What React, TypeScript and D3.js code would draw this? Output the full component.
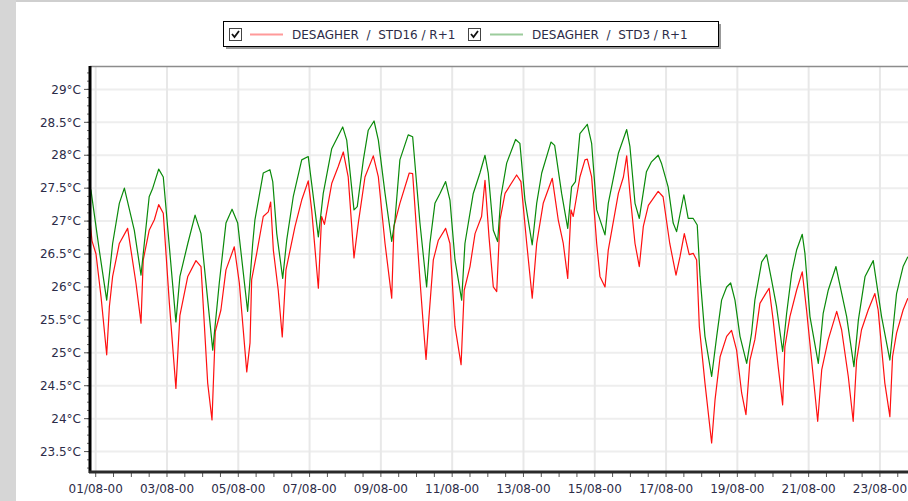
import React, {useRef, useEffect} from 'react';
import * as d3 from 'd3';

// hours counted from 01/08/2000 00:00
const std16Hours = [
  -3.8, -2.5, 0.2, 3.6, 7.4, 9.2, 11.4, 15.9, 21.5, 27.1, 30.5, 32, 36, 39.5, 42.4, 45.5, 49.6, 54, 56.7, 62,
  67.5, 70.9, 75.4, 78.3, 80.5, 84.3, 87.7, 93.3, 96.7, 101.7, 103.9, 105, 108.4, 112.8, 116.2, 117.8, 119.6,
  122.9, 125.6, 128.1, 134.2, 138.7, 143.1, 145.4, 149.9, 152.1, 154, 158.9, 163.3, 166.7, 170, 173.9, 176.8,
  181.3, 186.9, 190.3, 194.8, 199.3, 200.8, 204.8, 211.1, 213.4, 218.3, 220.8, 222.4, 224.4, 227.3, 230.7,
  235.6, 238.5, 241.9, 246, 248.1, 252, 255.4, 259.8, 262.1, 264.8, 267.7, 270, 272.2, 275.6, 283.4, 286.3,
  290.2, 293.9, 296.9, 301.3, 307.4, 311.4, 314.8, 317.8, 320, 321.5, 326, 329.4, 331, 333.9, 337.3, 339.5,
  342.9, 345.1, 351.9, 355.3, 357.5, 359.7, 363.1, 366, 368.7, 372.1, 378.7, 382, 386.5, 390.7, 393.4, 396.3,
  399.6, 402.3, 404.6, 406.4, 410.2, 414.7, 417, 420.4, 424.8, 428.1, 431.5, 434.9, 437.8, 440.5, 443.8,
  447.2, 450.6, 453.4, 456.1, 459.5, 462.5, 464, 467.4, 471.9, 475.7, 478.6, 483.1, 486.1, 488.8, 493.2,
  498.9, 502.2, 506.7, 510, 512.3, 515.6, 520.1, 524.6, 526.8, 531.3, 534.7, 536.5, 539.2, 543.6, 546.8,
];
const std16Temps = [
  27.0, 26.7, 26.5, 25.85, 24.97, 25.7, 26.16, 26.66, 26.89, 26.06, 25.45, 26.41, 26.86, 27.02, 27.25, 27.12,
  25.75, 24.46, 25.57, 26.16, 26.4, 26.31, 24.54, 23.98, 25.32, 25.65, 26.26, 26.61, 26.06, 24.71, 25.15,
  26.11, 26.51, 27.07, 27.14, 27.29, 26.56, 25.95, 25.24, 26.26, 26.92, 27.32, 27.61, 27.17, 25.98, 27.07,
  26.95, 27.57, 27.83, 28.05, 27.67, 26.44, 26.97, 27.67, 27.99, 27.67, 26.66, 25.83, 26.92, 27.27, 27.73,
  27.72, 26.11, 25.35, 24.9, 25.55, 26.41, 26.71, 26.89, 26.66, 25.4, 24.82, 25.95, 26.31, 26.81, 27.07,
  27.62, 26.76, 26.0, 25.93, 27.02, 27.42, 27.7, 27.6, 26.66, 25.83, 26.66, 27.27, 27.65, 27.02, 26.66,
  26.13, 27.17, 27.07, 27.67, 27.93, 27.94, 27.67, 26.66, 26.16, 26.0, 26.56, 27.42, 27.67, 27.99, 27.42,
  26.66, 26.31, 26.92, 27.24, 27.45, 27.37, 26.66, 26.18, 26.46, 26.81, 26.49, 26.51, 26.41, 25.4, 24.54,
  23.63, 24.29, 24.94, 25.25, 25.34, 25.04, 24.39, 24.06, 24.89, 25.2, 25.75, 25.88, 25.98, 25.5, 24.79,
  24.21, 25.09, 25.55, 25.95, 26.23, 25.65, 24.64, 23.96, 24.74, 25.2, 25.63, 25.35, 24.64, 23.96, 24.89,
  25.35, 25.65, 25.9, 25.65, 24.54, 24.03, 24.94, 25.3, 25.65, 25.83,
];
const std3Hours = [
  -3.8, -3.2, 2.4, 7.4, 11.4, 15.9, 19.3, 26, 30.5, 36, 38.4, 42.4, 45.5, 54, 56.7, 62, 66.9, 70.9, 78.8, 83.2,
  87.7, 91.8, 95.6, 102.3, 105.7, 107.2, 112.8, 117.3, 119.2, 121.9, 125.9, 128.6, 133, 138.7, 143.1, 145.4,
  149.9, 153.2, 158.9, 166.3, 169, 173.9, 176.1, 180.2, 183.5, 187.4, 190.3, 194.8, 199.3, 201.5, 204.8,
  210.4, 213.4, 218.3, 222.8, 225, 228.4, 231.8, 235.6, 238.5, 241.9, 246.4, 248.6, 254.2, 258.7, 262.1,
  264.3, 267.7, 270.6, 272.8, 276.7, 282.7, 285.6, 289, 293.9, 296.9, 300.3, 306.5, 309, 313.7, 317.8, 320.4,
  323, 326, 331, 333.9, 337.3, 342.9, 345.1, 351.9, 357.5, 359.7, 363.1, 366, 370.8, 374.2, 378.7, 380.9,
  385.4, 388.8, 391.1, 396, 398.9, 402.3, 405, 406.9, 410.2, 414.7, 418.1, 421.4, 424.8, 427.5, 430.4, 433.8,
  438.3, 441.6, 443.8, 448.4, 451.7, 455, 458.4, 462.5, 465.2, 468.6, 471.9, 475.7, 477.5, 480.9, 486.5,
  489.8, 493.2, 498.4, 505.6, 510.5, 513.5, 518, 523.5, 529.1, 534.7, 539.2, 543.6, 546.8,
];
const std3Temps = [
  27.5, 27.47, 26.56, 25.8, 26.66, 27.27, 27.5, 26.86, 26.18, 27.37, 27.5, 27.79, 27.67, 25.47, 26.16, 26.66,
  27.09, 26.81, 25.04, 26.06, 26.97, 27.18, 26.97, 25.63, 26.66, 27.02, 27.73, 27.78, 27.6, 26.81, 26.13,
  26.71, 27.37, 27.93, 27.98, 27.57, 26.76, 27.42, 28.1, 28.43, 28.23, 27.17, 27.22, 27.93, 28.38, 28.52,
  28.23, 27.42, 26.69, 27.02, 27.93, 28.31, 28.28, 26.97, 26.0, 26.66, 27.27, 27.42, 27.6, 27.32, 26.41,
  25.8, 26.66, 27.42, 27.73, 28.0, 27.73, 26.86, 26.69, 27.37, 27.88, 28.24, 28.18, 27.32, 26.64, 27.27,
  27.73, 28.2, 28.15, 27.42, 26.89, 27.52, 27.6, 28.33, 28.47, 28.18, 27.17, 26.79, 27.27, 28.03, 28.39,
  28.13, 27.27, 27.04, 27.75, 27.9, 28.0, 27.88, 27.52, 26.97, 26.84, 27.4, 27.04, 27.04, 26.94, 26.16,
  25.25, 24.64, 25.25, 25.8, 26.0, 26.06, 25.8, 25.25, 24.84, 25.3, 25.8, 26.38, 26.49, 26.11, 25.7, 25.02,
  25.6, 26.21, 26.56, 26.8, 26.51, 25.55, 24.84, 25.6, 25.95, 26.31, 25.55, 24.79, 25.5, 26.16, 26.4, 25.55,
  24.89, 25.9, 26.31, 26.46,
];

const yTicks = [23.5, 24, 24.5, 25, 25.5, 26, 26.5, 27, 27.5, 28, 28.5, 29];
const xTickDays = [1, 3, 5, 7, 9, 11, 13, 15, 17, 19, 21, 23];
const legendLabels = ['DESAGHER  /  STD16 / R+1', 'DESAGHER  /  STD3 / R+1'];

const START = new Date(2000, 7, 1, 0, 0).getTime();
const toDate = (h: number) => new Date(START + h * 3600000);

const W = 908, H = 501;
const left = 90, top = 67, bottom = 472, right = 908;
const font = 'DejaVu Sans, Verdana, sans-serif';
const fontSize = 12;
const textColor = '#2c2c48';

function App() {
  const svgRef = useRef<SVGSVGElement>(null);

  useEffect(() => {
    if (svgRef.current === null) return;
    const svg = d3.select(svgRef.current);
    svg.selectAll('*').remove();

    const x = d3.scaleTime().domain([toDate(-3.84), toDate(546.9)]).range([left, right]);
    const y = d3.scaleLinear().domain([23.19, 29.34]).range([bottom, top]);

    svg.append('rect').attr('width', W).attr('height', H).attr('fill', '#fff');
    svg.append('rect').attr('width', 16).attr('height', H).attr('fill', '#d6d6d6');
    svg.append('line').attr('x1', 16).attr('x2', W).attr('y1', 1).attr('y2', 1)
      .attr('stroke', '#cfcfcf').attr('stroke-width', 2);

    const majorDates = xTickDays.map(d => new Date(2000, 7, d, 0, 0));
    const minorDates = x.ticks(d3.timeHour.every(12) as any);

    // grid
    svg.append('g').selectAll('line').data(yTicks).enter().append('line')
      .attr('x1', left).attr('x2', right)
      .attr('y1', d => y(d)).attr('y2', d => y(d))
      .attr('stroke', '#eeeeee').attr('stroke-width', 2);
    svg.append('g').selectAll('line').data(majorDates).enter().append('line')
      .attr('x1', d => x(d)).attr('x2', d => x(d))
      .attr('y1', top).attr('y2', bottom)
      .attr('stroke', '#e8e8e8').attr('stroke-width', 2);

    // top frame
    svg.append('line').attr('x1', left).attr('x2', right).attr('y1', top - 0.5).attr('y2', top - 0.5)
      .attr('stroke', '#8c8c8c').attr('stroke-width', 1.5);

    svg.append('clipPath').attr('id', 'plot').append('rect')
      .attr('x', left).attr('y', top).attr('width', right - left).attr('height', bottom - top);

    const line = d3.line<[number, number]>()
      .x(d => x(toDate(d[0])))
      .y(d => y(d[1]));

    const series = [
      {hours: std16Hours, temps: std16Temps, color: '#ff1010'},
      {hours: std3Hours, temps: std3Temps, color: '#0a8a0a'},
    ];
    series.forEach(s => {
      const pts = s.hours.map((h, i) => [h, s.temps[i]] as [number, number]);
      svg.append('path').datum(pts)
        .attr('clip-path', 'url(#plot)')
        .attr('fill', 'none').attr('stroke', s.color).attr('stroke-width', 1.2)
        .attr('stroke-linejoin', 'round')
        .attr('d', line);
    });

    // y axis
    const yMinor = d3.range(23.25, 29.3, 0.125);
    svg.append('g').selectAll('line').data(yMinor).enter().append('line')
      .attr('x1', left - 3).attr('x2', left).attr('y1', d => y(d)).attr('y2', d => y(d))
      .attr('stroke', '#666').attr('stroke-width', 1);
    svg.append('g').selectAll('line').data(yTicks).enter().append('line')
      .attr('x1', left - 6).attr('x2', left).attr('y1', d => y(d)).attr('y2', d => y(d))
      .attr('stroke', '#555').attr('stroke-width', 1);
    svg.append('g').selectAll('text').data(yTicks).enter().append('text')
      .attr('x', 81).attr('y', d => y(d)).attr('dy', '0.35em')
      .attr('text-anchor', 'end').attr('font-family', font).attr('font-size', fontSize)
      .attr('fill', textColor)
      .text(d => d + '°C');
    svg.append('line').attr('x1', left).attr('x2', left).attr('y1', top - 1).attr('y2', bottom + 1)
      .attr('stroke', '#000').attr('stroke-width', 3);

    // x axis
    svg.append('g').selectAll('line').data(minorDates).enter().append('line')
      .attr('x1', d => x(d)).attr('x2', d => x(d)).attr('y1', bottom).attr('y2', bottom + 5)
      .attr('stroke', '#555').attr('stroke-width', 1);
    svg.append('line').attr('x1', left - 1).attr('x2', right).attr('y1', bottom).attr('y2', bottom)
      .attr('stroke', '#2a2a2a').attr('stroke-width', 3);
    const fmt = d3.timeFormat('%d/%m-%y');
    svg.append('g').selectAll('text').data(majorDates).enter().append('text')
      .attr('x', d => x(d)).attr('y', 493)
      .attr('text-anchor', 'middle').attr('font-family', font).attr('font-size', fontSize)
      .attr('fill', textColor)
      .text(d => fmt(d));

    // legend
    const lg = svg.append('g');
    lg.append('rect').attr('x', 226).attr('y', 24).attr('width', 495).attr('height', 25)
      .attr('fill', '#555').attr('opacity', 0.6);
    lg.append('rect').attr('x', 223.5).attr('y', 21.5).attr('width', 495).attr('height', 25)
      .attr('fill', '#fff').attr('stroke', '#000').attr('stroke-width', 1);
    const items = [
      {box: 229, lx: 250, tx: 292, color: '#ff9a9a', label: legendLabels[0]},
      {box: 468, lx: 490, tx: 532, color: '#9ccc9c', label: legendLabels[1]},
    ];
    items.forEach(it => {
      lg.append('rect').attr('x', it.box + 0.5).attr('y', 28.5).attr('width', 12).attr('height', 12)
        .attr('fill', '#fff').attr('stroke', '#444').attr('stroke-width', 1);
      lg.append('path')
        .attr('d', `M${it.box + 3},${34} L${it.box + 5.5},${37} L${it.box + 10},${31}`)
        .attr('fill', 'none').attr('stroke', '#111').attr('stroke-width', 1.8);
      lg.append('line').attr('x1', it.lx).attr('x2', it.lx + 33).attr('y1', 34.5).attr('y2', 34.5)
        .attr('stroke', it.color).attr('stroke-width', 2);
      lg.append('text').attr('x', it.tx).attr('y', 38.5)
        .attr('font-family', font).attr('font-size', fontSize).attr('fill', textColor)
        .style('white-space', 'pre')
        .text(it.label);
    });
  }, []);

  return (
    <div style={{position: 'absolute', left: 0, top: 0}}>
      <svg ref={svgRef} width={W} height={H} style={{display: 'block'}} />
    </div>
  );
}

export default App;
